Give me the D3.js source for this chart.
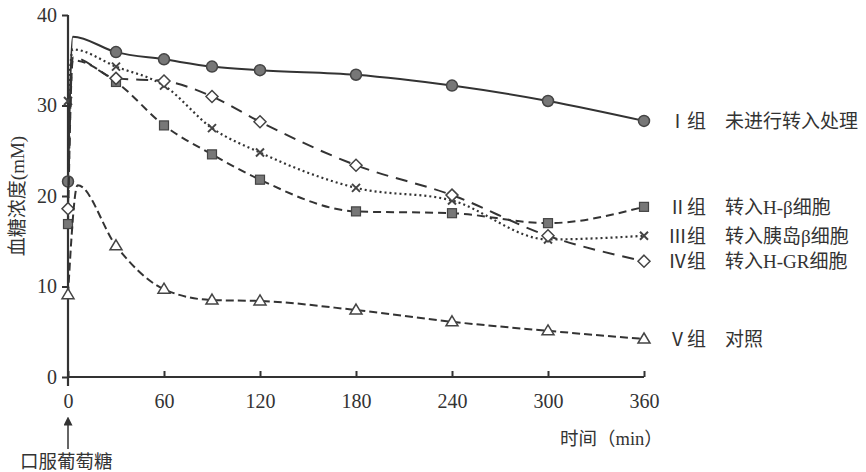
<!DOCTYPE html>
<html>
<head>
<meta charset="utf-8">
<script src="https://cdn.jsdelivr.net/npm/d3@7"></script>
<style>
  body { margin: 0; background: #fff; }
  text { font-family: "Liberation Serif", "Noto Sans CJK SC", serif; fill: #333; }
</style>
</head>
<body>
<svg id="chart"></svg>
<script>
// SIZE
var width = 866;
var height = 472;
var margin = {top: 15, right: 222, bottom: 95, left: 68};

// DATA (time in min, glucose in mM)
var times = [0, 3, 30, 60, 90, 120, 180, 240, 300, 360];
var groupI   = [21.6, 37.6, 35.9, 35.1, 34.3, 33.9, 33.4, 32.2, 30.5, 28.3];
var groupII  = [16.9, 35.0, 32.6, 27.8, 24.6, 21.8, 18.3, 18.1, 17.0, 18.8];
var groupIII = [30.5, 36.2, 34.3, 32.2, 27.5, 24.8, 20.9, 19.5, 15.2, 15.6];
var groupIV  = [18.6, 35.3, 33.0, 32.7, 31.0, 28.2, 23.4, 20.1, 15.6, 12.8];
var timesV   = [0, 6, 30, 60, 90, 120, 180, 240, 300, 360];
var groupV   = [9.1, 21.2, 14.5, 9.7, 8.5, 8.4, 7.4, 6.1, 5.1, 4.2];
var xTicks = [0, 60, 120, 180, 240, 300, 360];
var yTicks = [0, 10, 20, 30, 40];
var labels = ["Ⅰ组", "Ⅱ组", "Ⅲ组", "Ⅳ组", "Ⅴ组"];
var notes  = ["未进行转入处理", "转入H-β细胞", "转入胰岛β细胞", "转入H-GR细胞", "对照"];

var series = [
  {label: labels[0], note: notes[0], t: times,  v: groupI,   marker: "circle",   dash: null},
  {label: labels[1], note: notes[1], t: times,  v: groupII,  marker: "square",   dash: "8,5"},
  {label: labels[2], note: notes[2], t: times,  v: groupIII, marker: "cross",    dash: "2,3"},
  {label: labels[3], note: notes[3], t: times,  v: groupIV,  marker: "diamond",  dash: "12,8"},
  {label: labels[4], note: notes[4], t: timesV, v: groupV,   marker: "triangle", dash: "8,4"}
];

var svg = d3.select("#chart")
  .attr("width", width)
  .attr("height", height);

// SCALES
var xScale = d3.scaleLinear()
  .domain([0, 360])
  .range([margin.left, width - margin.right]);

var yScale = d3.scaleLinear()
  .domain([0, 40])
  .range([height - margin.bottom, margin.top]);

// AXES
var yAxis = d3.axisLeft(yScale)
  .tickValues(yTicks)
  .tickSize(6)
  .tickPadding(5);

var xAxis = d3.axisBottom(xScale)
  .tickValues(xTicks)
  .tickSize(-6)
  .tickPadding(14);

var yAxisG = svg.append("g")
  .attr("transform", "translate(" + margin.left + ",0)")
  .call(yAxis);
yAxisG.select(".domain").remove();

var xAxisG = svg.append("g")
  .attr("transform", "translate(0," + (height - margin.bottom) + ")")
  .call(xAxis);
xAxisG.select(".domain").remove();

svg.selectAll(".tick line").attr("stroke", "#333").attr("stroke-width", 2);
svg.selectAll(".tick text").attr("font-size", 20).style("fill", "#333");
xAxisG.selectAll(".tick text").attr("dy", "0.85em");

// axis lines
svg.append("line")
  .attr("x1", margin.left).attr("x2", margin.left)
  .attr("y1", margin.top).attr("y2", height - margin.bottom + 9)
  .attr("stroke", "#333").attr("stroke-width", 2.2);
svg.append("line")
  .attr("x1", margin.left).attr("x2", xScale(360))
  .attr("y1", yScale(0)).attr("y2", yScale(0))
  .attr("stroke", "#333").attr("stroke-width", 2.2);

// axis titles
svg.append("text")
  .attr("transform", "translate(24," + yScale(20) + ") rotate(-90)")
  .attr("text-anchor", "middle")
  .attr("font-size", 19)
  .text("血糖浓度(mM)");

svg.append("text")
  .attr("x", 560).attr("y", 445)
  .attr("font-size", 18.5)
  .text("时间（min）");

// arrow for oral glucose
svg.append("defs").append("marker")
  .attr("id", "arrowHead")
  .attr("viewBox", "0 0 10 10")
  .attr("refX", 5).attr("refY", 5)
  .attr("markerWidth", 6).attr("markerHeight", 6)
  .attr("orient", "auto")
  .append("path")
  .attr("d", "M0,0 L10,5 L0,10 z")
  .attr("fill", "#333");

svg.append("line")
  .attr("x1", xScale(0)).attr("x2", xScale(0))
  .attr("y1", 449).attr("y2", 421)
  .attr("stroke", "#333").attr("stroke-width", 1.5)
  .attr("marker-end", "url(#arrowHead)");

svg.append("text")
  .attr("x", 20).attr("y", 468)
  .attr("font-size", 18.5)
  .text("口服葡萄糖");

// LINES
var line = d3.line()
  .x(function(d) { return xScale(d.t); })
  .y(function(d) { return yScale(d.v); })
  .curve(d3.curveMonotoneX);

var plot = svg.append("g");

series.forEach(function(s) {
  var pts = s.t.map(function(t, i) { return {t: t, v: s.v[i]}; });

  plot.append("path")
    .datum(pts)
    .attr("d", line)
    .attr("fill", "none")
    .attr("stroke", "#333")
    .attr("stroke-width", s.dash === "2,3" ? 2.2 : 2)
    .attr("stroke-dasharray", s.dash);

  // markers (skip peak point, index 1)
  var markPts = pts.filter(function(d, i) { return i !== 1; });
  var g = plot.append("g");
  markPts.forEach(function(d) {
    var cx = xScale(d.t), cy = yScale(d.v);
    if (s.marker === "circle") {
      g.append("circle").attr("cx", cx).attr("cy", cy).attr("r", 5.5)
        .attr("fill", "#777").attr("stroke", "#444").attr("stroke-width", 1.5);
    } else if (s.marker === "square") {
      g.append("rect").attr("x", cx - 4.5).attr("y", cy - 4.5)
        .attr("width", 9).attr("height", 9)
        .attr("fill", "#777").attr("stroke", "#444").attr("stroke-width", 1.2);
    } else if (s.marker === "cross") {
      g.append("path")
        .attr("d", "M" + (cx - 4) + "," + (cy - 4) + "L" + (cx + 4) + "," + (cy + 4) +
                   "M" + (cx - 4) + "," + (cy + 4) + "L" + (cx + 4) + "," + (cy - 4))
        .attr("stroke", "#444").attr("stroke-width", 2);
    } else if (s.marker === "diamond") {
      g.append("path")
        .attr("d", "M" + cx + "," + (cy - 6) + "L" + (cx + 6) + "," + cy +
                   "L" + cx + "," + (cy + 6) + "L" + (cx - 6) + "," + cy + "Z")
        .attr("fill", "#fff").attr("stroke", "#444").attr("stroke-width", 1.5);
    } else if (s.marker === "triangle") {
      g.append("path")
        .attr("d", "M" + cx + "," + (cy - 6) + "L" + (cx + 6) + "," + (cy + 4) +
                   "L" + (cx - 6) + "," + (cy + 4) + "Z")
        .attr("fill", "#fff").attr("stroke", "#444").attr("stroke-width", 1.5);
    }
  });

  // end labels
  var last = pts[pts.length - 1];
  var ly = yScale(last.v) + 7;
  svg.append("text")
    .attr("x", 668).attr("y", ly)
    .attr("font-size", 19)
    .text(s.label);
  svg.append("text")
    .attr("x", 725).attr("y", ly)
    .attr("font-size", 19)
    .text(s.note);
});
</script>
</body>
</html>
